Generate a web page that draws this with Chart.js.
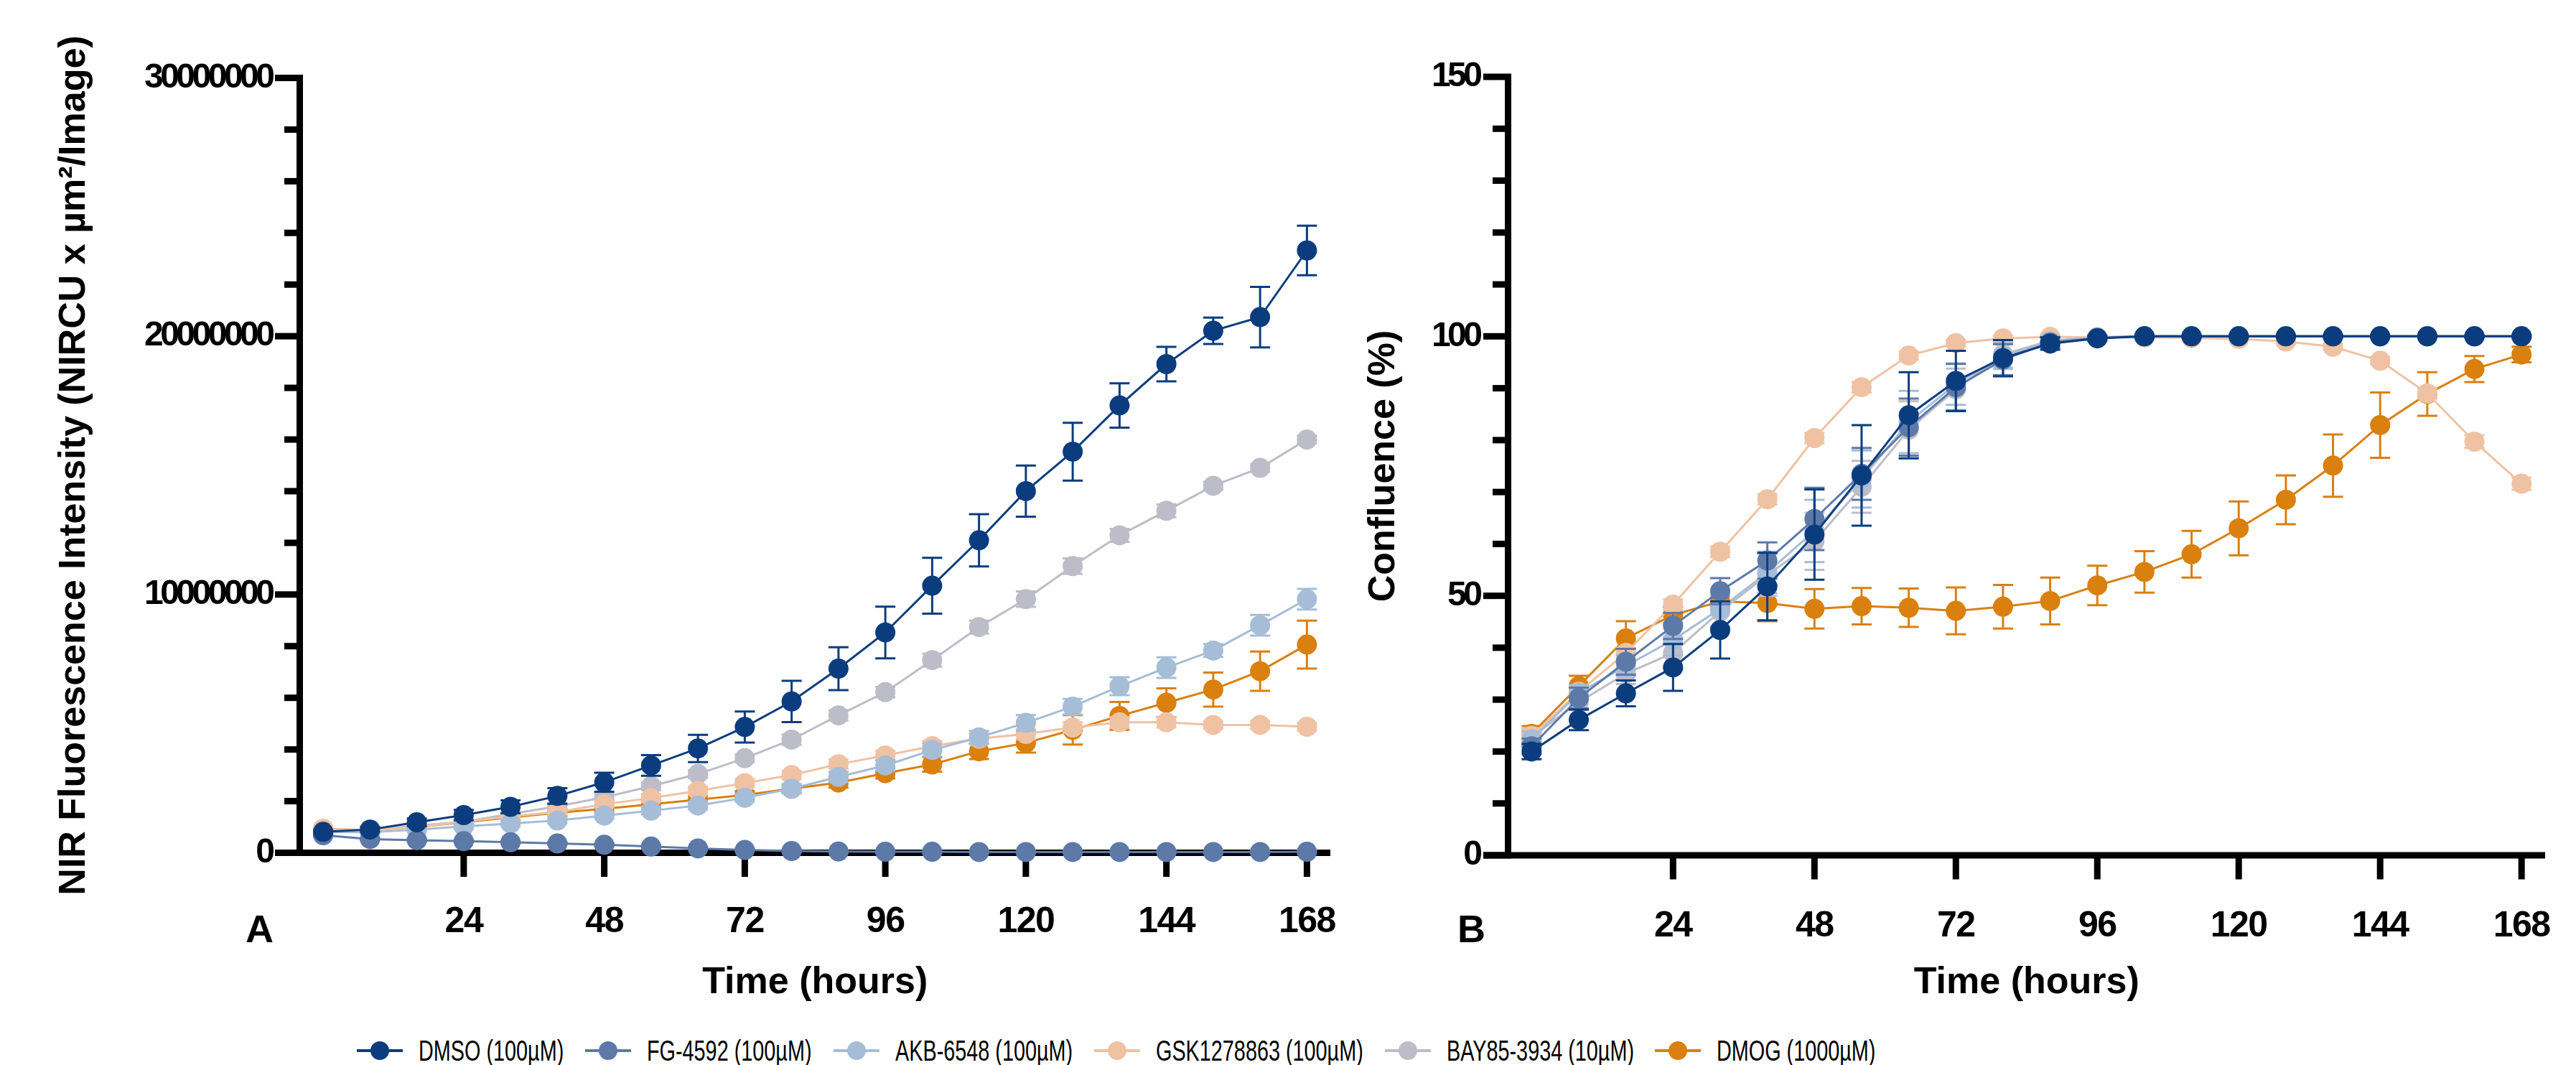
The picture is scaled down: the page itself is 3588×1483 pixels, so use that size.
<!DOCTYPE html>
<html>
<head>
<meta charset="utf-8">
<script src="https://cdn.jsdelivr.net/npm/chart.js@4/dist/chart.umd.min.js"></script>
<style>
html,body{margin:0;padding:0;background:#fff;width:3588px;height:1483px;overflow:hidden;position:relative;}
canvas{position:absolute;top:0;}
#cA{left:0;}
#cB{left:1880px;}
.plabel{position:absolute;font:bold 54px "Liberation Sans",Arial,sans-serif;line-height:1;color:#000;}
#legend{position:absolute;left:497px;top:1443px;height:40px;display:flex;align-items:center;font:40px "Liberation Sans",Arial,sans-serif;line-height:1;color:#000;white-space:nowrap;}
.item{display:flex;align-items:center;margin-right:30px;}
.sym{position:relative;width:64px;height:26px;display:inline-block;margin-right:22px;}
.ln{position:absolute;left:0;right:0;top:11px;height:4px;}
.dot{position:absolute;left:19px;top:0;width:26px;height:26px;border-radius:50%;}
.txtwrap{display:inline-block;height:40px;}
.txt{display:inline-block;transform:scaleX(0.72);transform-origin:0 50%;}
</style>
</head>
<body>
<canvas id="cA" width="1960" height="1420"></canvas>
<canvas id="cB" width="1800" height="1420"></canvas>
<div class="plabel" style="left:342px;top:1266px;">A</div>
<div class="plabel" style="left:2030px;top:1266px;">B</div>
<div id="legend"></div>
<script>
// ---------- data ----------
const TIME = [0,8,16,24,32,40,48,56,64,72,80,88,96,104,112,120,128,136,144,152,160,168];
const X_TICKS = [24,48,72,96,120,144,168];
const SERIES_NAMES = ['DMSO (100µM)','FG-4592 (100µM)','AKB-6548 (100µM)','GSK1278863 (100µM)','BAY85-3934 (10µM)','DMOG (1000µM)'];
const SERIES_COLORS = ['#0b3d7e','#5d79a8','#a5bdd7','#efc2a4','#bdbdc9','#d9800f'];

// Panel A: NIR fluorescence intensity (NIRCU x µm²/Image)
const A_DMSO = [810000,900000,1180000,1460000,1780000,2200000,2730000,3380000,4040000,4870000,5860000,7130000,8530000,10340000,12100000,14000000,15530000,17320000,18920000,20210000,20740000,23320000];
const A_DMSO_SD = [80000,100000,150000,200000,250000,300000,370000,400000,530000,600000,800000,830000,1000000,1080000,1010000,990000,1120000,860000,670000,510000,1170000,960000];
const A_FG = [680000,530000,490000,450000,410000,360000,310000,240000,170000,110000,70000,50000,40000,40000,30000,30000,30000,30000,30000,30000,30000,40000];
const A_FG_SD = [50000,50000,50000,50000,50000,50000,50000,50000,50000,50000,40000,40000,40000,40000,40000,40000,40000,40000,40000,40000,40000,40000];
const A_AKB = [800000,800000,900000,1020000,1130000,1250000,1440000,1630000,1830000,2130000,2480000,2940000,3380000,3980000,4470000,5030000,5660000,6450000,7170000,7830000,8810000,9820000];
const A_AKB_SD = [50000,50000,80000,100000,100000,100000,120000,150000,150000,150000,180000,200000,200000,250000,250000,300000,300000,350000,400000,250000,400000,400000];
const A_GSK = [920000,880000,1000000,1200000,1410000,1580000,1880000,2120000,2400000,2700000,3010000,3430000,3770000,4130000,4420000,4600000,4850000,5050000,5050000,4950000,4950000,4880000];
const A_GSK_SD = [60000,60000,80000,100000,100000,120000,120000,150000,150000,150000,150000,180000,180000,200000,200000,200000,200000,200000,200000,150000,150000,150000];
const A_BAY = [820000,880000,1050000,1200000,1500000,1800000,2150000,2580000,3050000,3660000,4380000,5320000,6220000,7460000,8740000,9820000,11100000,12290000,13240000,14210000,14900000,16000000];
const A_BAY_SD = [50000,50000,80000,100000,100000,120000,120000,150000,150000,150000,200000,200000,200000,250000,250000,300000,300000,250000,250000,150000,150000,150000];
const A_DMOG = [920000,880000,1000000,1180000,1370000,1550000,1700000,1880000,2060000,2240000,2480000,2720000,3080000,3420000,3930000,4250000,4760000,5300000,5810000,6320000,7030000,8060000];
const A_DMOG_SD = [50000,50000,80000,100000,100000,120000,120000,150000,150000,150000,150000,200000,200000,280000,300000,370000,570000,540000,560000,660000,760000,930000];

// Panel B: Confluence (%)
const B_DMSO = [20.0,26.1,31.2,36.2,43.4,51.8,61.8,73.2,84.8,91.4,95.8,98.6,99.6,100,100,100,100,100,100,100,100,100];
const B_DMSO_SD = [1.5,2.0,2.5,4.5,5.5,6.5,8.7,9.7,8.3,5.8,3.5,1.2,0.5,0.3,0.2,0.2,0.2,0.2,0.2,0.2,0.2,0.2];
const B_FG = [21.0,30.3,37.3,44.2,50.9,56.8,64.8,73.5,82.5,90.2,95.5,98.8,99.7,100,100,100,100,100,100,100,100,100];
const B_FG_SD = [1.5,2.0,2.5,2.5,2.5,3.5,6.0,5.0,5.5,4.5,3.0,1.0,0.4,0.2,0.2,0.2,0.2,0.2,0.2,0.2,0.2,0.2];
const B_AKB = [22.3,31.3,36.5,41.5,47.5,54.5,62.5,72.5,83.5,90.8,96.2,99.0,99.8,100,100,100,100,100,100,100,100,100];
const B_AKB_SD = [1.5,1.5,2.0,3.0,3.5,4.0,6.0,5.5,6.0,4.0,2.5,1.0,0.4,0.2,0.2,0.2,0.2,0.2,0.2,0.2,0.2,0.2];
const B_GSK = [23.0,31.5,39.0,48.3,58.5,68.6,80.4,90.2,96.3,98.7,99.6,99.9,99.8,99.8,99.7,99.5,99.0,98.0,95.3,89.0,79.7,71.6];
const B_GSK_SD = [1.5,1.0,1.0,1.0,1.0,1.0,1.0,1.0,0.8,0.6,0.5,0.4,0.3,0.3,0.3,0.3,0.5,0.6,0.7,1.0,1.2,1.2];
const B_BAY = [22.8,29.5,35.0,39.0,47.0,54.0,60.5,71.0,82.0,89.8,96.5,99.2,99.8,100,100,100,100,100,100,100,100,100];
const B_BAY_SD = [1.5,1.5,2.0,3.0,3.0,4.0,5.5,5.0,5.5,4.0,2.5,1.0,0.4,0.2,0.2,0.2,0.2,0.2,0.2,0.2,0.2,0.2];
const B_DMOG = [23.4,32.6,41.8,46.3,48.9,48.6,47.5,48.0,47.7,47.1,47.9,49.0,52.0,54.6,58.0,63.0,68.5,75.1,82.9,88.9,93.7,96.5];
const B_DMOG_SD = [1.5,2.0,3.3,1.5,1.0,3.5,3.8,3.5,3.7,4.5,4.2,4.5,3.8,4.0,4.5,5.2,4.7,6.0,6.3,4.2,2.5,1.5];

const A_MAJOR = [0,10000000,20000000,30000000];
const A_MINOR = [2000000,4000000,6000000,8000000,12000000,14000000,16000000,18000000,22000000,24000000,26000000,28000000];
const B_MAJOR = [0,50,100,150];
const B_MINOR = [10,20,30,40,60,70,80,90,110,120,130,140];

// ---------- helpers ----------
const FONT = '"Liberation Sans", Arial, sans-serif';

function makeDatasets(values, errors) {
  return values.map((vals, k) => ({
    label: SERIES_NAMES[k],
    data: vals.map((v, i) => ({x: TIME[i], y: v})),
    errors: errors[k],
    borderColor: SERIES_COLORS[k],
    backgroundColor: SERIES_COLORS[k],
    pointBackgroundColor: SERIES_COLORS[k],
    pointBorderWidth: 0,
    pointRadius: 14,
    pointHoverRadius: 14,
    borderWidth: 3,
    tension: 0,
    clip: false
  }));
}

// tighter tracking for a scale's tick labels (condensed look)
function condenseLabels(scale, spacing) {
  if (scale._condensed) return;
  scale._condensed = true;
  const orig = scale.drawLabels;
  scale.drawLabels = function (area) {
    const ctx = this.ctx;
    const prev = ctx.letterSpacing;
    ctx.letterSpacing = spacing;
    orig.call(this, area);
    ctx.letterSpacing = prev || '0px';
  };
}

const errPlugin = {
  id: 'errBars',
  beforeDatasetDraw(chart, args) {
    const ds = chart.data.datasets[args.index];
    if (!ds.errors) return;
    const {ctx} = chart;
    const xs = chart.scales.x, ys = chart.scales.y;
    ctx.save();
    ctx.strokeStyle = ds.borderColor;
    ctx.lineWidth = 3;
    ds.data.forEach((p, i) => {
      const e = ds.errors[i];
      const px = xs.getPixelForValue(p.x);
      const pt = ys.getPixelForValue(p.y + e);
      const pb = ys.getPixelForValue(p.y - e);
      ctx.beginPath();
      ctx.moveTo(px, pt); ctx.lineTo(px, pb);
      ctx.moveTo(px - 14, pt); ctx.lineTo(px + 14, pt);
      ctx.moveTo(px - 14, pb); ctx.lineTo(px + 14, pb);
      ctx.stroke();
    });
    ctx.restore();
  }
};

const axisPlugin = {
  id: 'gpAxes',
  beforeDatasetsDraw(chart, args, opts) {
    const {ctx, chartArea} = chart;
    const xs = chart.scales.x, ys = chart.scales.y;
    const lw = 9;
    const majorLen = 30, minorLen = 17, xTickLen = 29;
    const xl = chartArea.left;
    const y0 = ys.getPixelForValue(ys.min);
    const yTop = ys.getPixelForValue(ys.max);
    ctx.save();
    ctx.fillStyle = '#000';
    ctx.fillRect(xl - lw / 2, yTop - lw / 2, lw, y0 - yTop + lw);
    ctx.fillRect(xl - lw / 2 - majorLen, y0 - lw / 2, chartArea.right - (xl - lw / 2 - majorLen), lw);
    opts.major.forEach(v => {
      const py = ys.getPixelForValue(v);
      ctx.fillRect(xl - lw / 2 - majorLen, py - lw / 2, majorLen, lw);
    });
    opts.minor.forEach(v => {
      const py = ys.getPixelForValue(v);
      ctx.fillRect(xl - lw / 2 - minorLen, py - lw / 2, minorLen, lw);
    });
    X_TICKS.forEach(v => {
      const px = xs.getPixelForValue(v);
      ctx.fillRect(px - lw / 2, y0, lw, lw / 2 + xTickLen);
    });
    ctx.restore();
  }
};

function makeChart(id, cfg) {
  return new Chart(document.getElementById(id), {
    type: 'line',
    data: {datasets: makeDatasets(cfg.values, cfg.errors)},
    plugins: [axisPlugin, errPlugin],
    options: {
      responsive: false,
      animation: false,
      devicePixelRatio: 1,
      layout: {padding: cfg.padding},
      plugins: {
        legend: {display: false},
        tooltip: {enabled: false},
        gpAxes: {major: cfg.major, minor: cfg.minor}
      },
      scales: {
        x: {
          type: 'linear', min: -4, max: 172,
          afterFit: s => { s.height = cfg.xHeight; condenseLabels(s, '-1.5px'); },
          afterBuildTicks: s => { s.ticks = X_TICKS.map(v => ({value: v})); },
          grid: {display: false, drawTicks: false},
          border: {display: false},
          ticks: {autoSkip: false, maxRotation: 0, padding: cfg.xPad, color: '#000',
                  font: {family: FONT, size: 50, weight: 'bold'}},
          title: {display: true, text: 'Time (hours)', color: '#000',
                  font: {family: FONT, size: 52, weight: 'bold'}, padding: {top: 0, bottom: 0}}
        },
        y: {
          type: 'linear', min: cfg.yMin, max: cfg.yMax,
          afterFit: s => { s.width = cfg.yWidth; condenseLabels(s, '-4.5px'); },
          afterBuildTicks: s => { s.ticks = cfg.major.map(v => ({value: v})); },
          grid: {display: false, drawTicks: false},
          border: {display: false},
          ticks: {padding: cfg.yPad, color: '#000', callback: v => String(v),
                  font: {family: FONT, size: 48, weight: 'bold'}},
          title: {display: true, text: cfg.yTitle, color: '#000',
                  font: {family: FONT, size: 52, weight: 'bold'}, padding: {top: cfg.yTitlePad, bottom: 0}}
        }
      }
    }
  });
}

makeChart('cA', {
  values: [A_DMSO, A_FG, A_AKB, A_GSK, A_BAY, A_DMOG],
  errors: [A_DMSO_SD, A_FG_SD, A_AKB_SD, A_GSK_SD, A_BAY_SD, A_DMOG_SD],
  major: A_MAJOR, minor: A_MINOR, yMin: 0, yMax: 30000000,
  padding: {left: 0, top: 108.5, right: 107, bottom: 20},
  xHeight: 212.5, yWidth: 417.5, xPad: 67, yPad: 39, yTitlePad: 72,
  yTitle: 'NIR Fluorescence Intensity (NIRCU x µm²/Image)'
});

makeChart('cB', {
  values: [B_DMSO, B_FG, B_AKB, B_GSK, B_BAY, B_DMOG],
  errors: [B_DMSO_SD, B_FG_SD, B_AKB_SD, B_GSK_SD, B_BAY_SD, B_DMOG_SD],
  major: B_MAJOR, minor: B_MINOR, yMin: 0, yMax: 150,
  padding: {left: 0, top: 107, right: 135, bottom: 20},
  xHeight: 209, yWidth: 220.5, xPad: 69, yPad: 40, yTitlePad: 16,
  yTitle: 'Confluence (%)'
});

// ---------- legend ----------
const legend = document.getElementById('legend');
SERIES_NAMES.forEach((name, k) => {
  const item = document.createElement('div');
  item.className = 'item';
  item.innerHTML = '<span class="sym"><i class="ln" style="background:' + SERIES_COLORS[k] +
    '"></i><i class="dot" style="background:' + SERIES_COLORS[k] + '"></i></span>' +
    '<span class="txtwrap"><span class="txt">' + name + '</span></span>';
  legend.appendChild(item);
  const txt = item.querySelector('.txt');
  item.querySelector('.txtwrap').style.width = (txt.offsetWidth * 0.72) + 'px';
});
</script>
</body>
</html>
